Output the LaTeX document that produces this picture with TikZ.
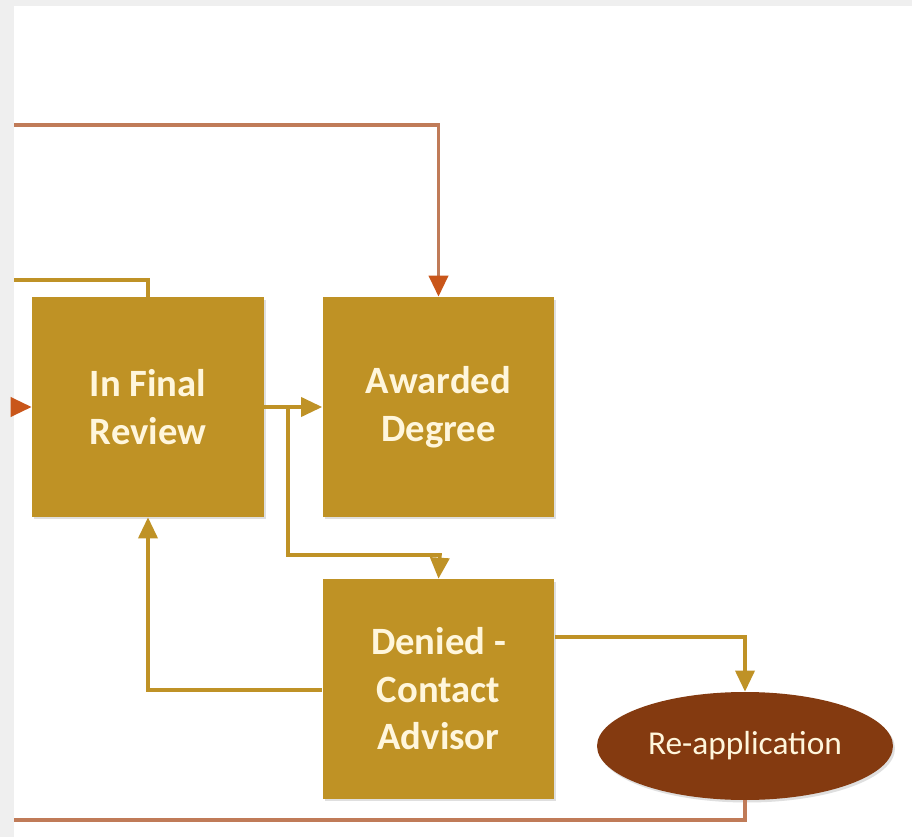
\documentclass[tikz,border=0pt]{standalone}
\usepackage{fontspec}
\setmainfont{Carlito}
\usetikzlibrary{arrows.meta, positioning, shapes.geometric, shadows}
\definecolor{gold}{HTML}{BF9225}
\definecolor{goldline}{HTML}{BF9226}
\definecolor{rust}{HTML}{C9561A}
\definecolor{clay}{HTML}{C07B58}
\definecolor{brick}{HTML}{843A10}
\definecolor{cream}{HTML}{FFF6DC}
\definecolor{edge}{HTML}{EFEFEF}
\tikzset{
  st/.style = {rectangle, fill=gold, text=cream, inner sep=0pt,
    minimum width=4.64cm, minimum height=4.4cm, align=center,
    font=\bfseries\fontsize{22}{27}\selectfont,
    drop shadow={shadow xshift=0.04cm, shadow yshift=-0.05cm, opacity=0.25}},
  fim/.style = {ellipse, fill=brick, text=cream, inner sep=0pt,
    minimum width=5.92cm, minimum height=2.16cm,
    font=\fontsize{19}{22}\selectfont,
    drop shadow={shadow xshift=0.04cm, shadow yshift=-0.05cm, opacity=0.25}},
  lg/.style = {draw=goldline, line width=2pt},
  lb/.style = {draw=clay, line width=2.1pt},
  sg/.style = {lg, -{Triangle[length=0.42cm, width=0.38cm]}},
  sb/.style = {draw=clay, line width=2.1pt,
    -{Triangle[length=0.42cm, width=0.38cm, color=rust]}}
}

\begin{document}
\begin{tikzpicture}[x=0.02cm, y=-0.02cm]
  \useasboundingbox (0,0) rectangle (912,837);
  \fill [edge] (0,0) rectangle (912,837);
  \fill [white] (14,6) rectangle (912,837);
  % states
  \node [st] (rev) at (148,407) {In Final\\Review};
  \node [st] (deg) at (438.5,407) {Awarded\\Degree};
  \node [st] (den) at (438.5,689) {Denied -\\Contact\\Advisor};
  \node [fim] (reap) at (745,746) {Re-application};
  % free ends at the cut edge
  \coordinate (ta) at (14,125);
  \coordinate (tb) at (14,280);
  \coordinate (tc) at (14,407);
  \coordinate (td) at (14,820);
  \coordinate (fork) at (288,407);
  % connectors
  \draw [sb] (ta) -| (deg.north);
  \draw [lg] (tb) -| (rev.north);
  \draw [sb] (tc) -- (rev.west);
  \draw [sg] (rev.east) -- (deg.west);
  \draw [sg] (fork) |- (440,555) -- (den.north);
  \draw [sg] (den.west |- 0,690) -| (rev.south);
  \draw [sg] (den.east |- 0,637) -| (reap.north);
  \draw [lb] (reap.south) |- (td);
\end{tikzpicture}
\end{document}
